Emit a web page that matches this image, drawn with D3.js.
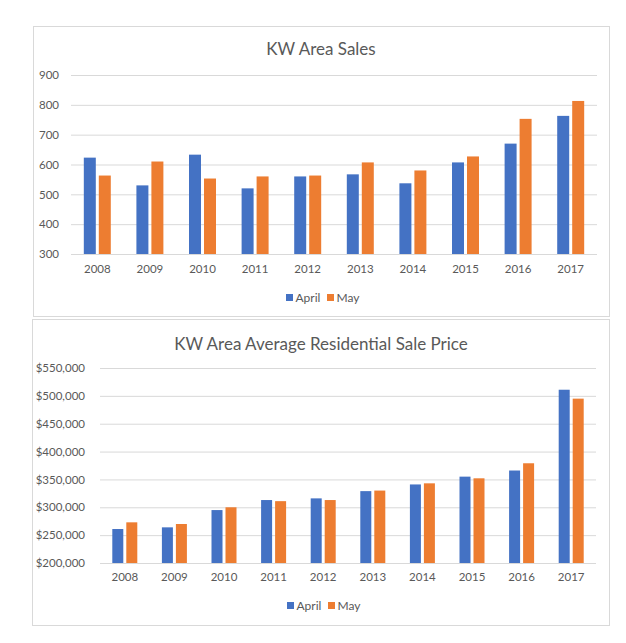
<!DOCTYPE html>
<html>
<head>
<meta charset="utf-8">
<script src="https://cdn.jsdelivr.net/npm/d3@7"></script>
<style>
  html, body { margin: 0; padding: 0; background: #fff; }
  svg { display: block; }
  text { font-family: Lato, "Open Sans", "Liberation Sans", sans-serif; fill: #595959; }
</style>
</head>
<body>
<svg id="chart" width="626" height="643"></svg>
<script>
// ---- Data ----
const years = ["2008", "2009", "2010", "2011", "2012", "2013", "2014", "2015", "2016", "2017"];
const seriesNames = ["April", "May"];
const seriesColors = ["#4472C4", "#ED7D31"];

const salesApril = [623, 530, 633, 520, 560, 567, 537, 607, 670, 763];
const salesMay   = [563, 610, 553, 560, 563, 607, 580, 627, 753, 813];
const salesTicks = [300, 400, 500, 600, 700, 800, 900];

const priceApril = [261000, 264000, 295000, 313000, 316000, 329000, 341000, 355000, 366000, 511000];
const priceMay   = [273000, 270000, 300000, 311000, 313000, 330000, 343000, 352000, 379000, 495000];
const priceTicks = [200000, 250000, 300000, 350000, 400000, 450000, 500000, 550000];

const svg = d3.select("#chart");

function drawChart(cfg) {
  const g = svg.append("g");
  // panel border
  g.append("rect")
    .attr("x", cfg.panel.x).attr("y", cfg.panel.y)
    .attr("width", cfg.panel.w).attr("height", cfg.panel.h)
    .attr("fill", "#fff").attr("stroke", "#D9D9D9").attr("stroke-width", 1);

  // title
  g.append("text")
    .attr("x", cfg.titleX).attr("y", cfg.titleY)
    .attr("text-anchor", "middle")
    .style("font-size", cfg.titleSize + "px")
    .text(cfg.title);

  const x = d3.scaleBand().domain(years).range([cfg.x0, cfg.x1]).paddingInner(cfg.pad).paddingOuter(cfg.pad / 2);
  const xs = d3.scaleBand().domain(seriesNames).range([0, x.bandwidth()]).paddingInner(cfg.innerPad);
  const y = d3.scaleLinear().domain([cfg.ticks[0], cfg.ticks[cfg.ticks.length - 1]]).range([cfg.y0, cfg.y1]);

  // gridlines
  const yAxis = d3.axisLeft(y).tickValues(cfg.ticks).tickSize(-(cfg.x1 - cfg.x0)).tickPadding(cfg.tickPad).tickFormat(cfg.fmt);
  const ya = g.append("g").attr("transform", `translate(${cfg.x0},0)`).call(yAxis);
  ya.select(".domain").remove();
  ya.selectAll(".tick line").attr("stroke", "#D9D9D9").attr("stroke-width", 1);
  ya.selectAll(".tick text").style("font-size", cfg.tickSize + "px").attr("fill", "#595959").attr("font-family", null);

  // bars
  const data = years.map((yr, i) => ({ year: yr, values: [cfg.a[i], cfg.b[i]] }));
  const grp = g.append("g").selectAll("g").data(data).join("g")
    .attr("transform", d => `translate(${x(d.year)},0)`);
  grp.selectAll("rect").data(d => d.values.map((v, k) => ({ k, v }))).join("rect")
    .attr("x", d => xs(seriesNames[d.k]))
    .attr("width", xs.bandwidth())
    .attr("y", d => y(d.v))
    .attr("height", d => y(cfg.ticks[0]) - y(d.v))
    .attr("fill", d => seriesColors[d.k]);

  // baseline redrawn on top
  g.append("line").attr("x1", cfg.x0).attr("x2", cfg.x1)
    .attr("y1", y(cfg.ticks[0]) + 0.5).attr("y2", y(cfg.ticks[0]) + 0.5)
    .attr("stroke", "#D9D9D9");

  // x axis labels
  const xAxis = d3.axisBottom(x).tickSize(0).tickPadding(cfg.xLabelPad);
  const xa = g.append("g").attr("transform", `translate(0,${cfg.y0})`).call(xAxis);
  xa.select(".domain").remove();
  xa.selectAll(".tick text").style("font-size", cfg.tickSize + "px").attr("fill", "#595959").attr("font-family", null);

  // legend
  const lg = g.append("g");
  cfg.legend.forEach((item, k) => {
    lg.append("rect").attr("x", item.x).attr("y", cfg.legendY - 3.5)
      .attr("width", 7).attr("height", 7).attr("fill", seriesColors[k]);
    lg.append("text").attr("x", item.x + 9.5).attr("y", cfg.legendY)
      .attr("dy", "0.35em")
      .style("font-size", cfg.legendSize + "px")
      .text(seriesNames[k]);
  });
}

drawChart({
  panel: { x: 33.5, y: 26.5, w: 576, h: 290 },
  title: "KW Area Sales", titleX: 321, titleY: 54.5, titleSize: 17,
  x0: 71, x1: 597, pad: 0.487, innerPad: 0.2,
  y0: 254, y1: 75, ticks: salesTicks, fmt: d3.format("d"),
  tickSize: 11.5, tickPad: 12, xLabelPad: 11,
  a: salesApril, b: salesMay,
  legendY: 297.5, legendSize: 12,
  legend: [{ x: 286 }, { x: 327 }]
});

drawChart({
  panel: { x: 32.5, y: 319.5, w: 577, h: 306 },
  title: "KW Area Average Residential Sale Price", titleX: 321, titleY: 349.5, titleSize: 17,
  x0: 100, x1: 596, pad: 0.496, innerPad: 0.214,
  y0: 563, y1: 368, ticks: priceTicks, fmt: d => "$" + d3.format(",")(d),
  tickSize: 11.5, tickPad: 15, xLabelPad: 9.5,
  a: priceApril, b: priceMay,
  legendY: 605.5, legendSize: 12,
  legend: [{ x: 287 }, { x: 328 }]
});
</script>
</body>
</html>
